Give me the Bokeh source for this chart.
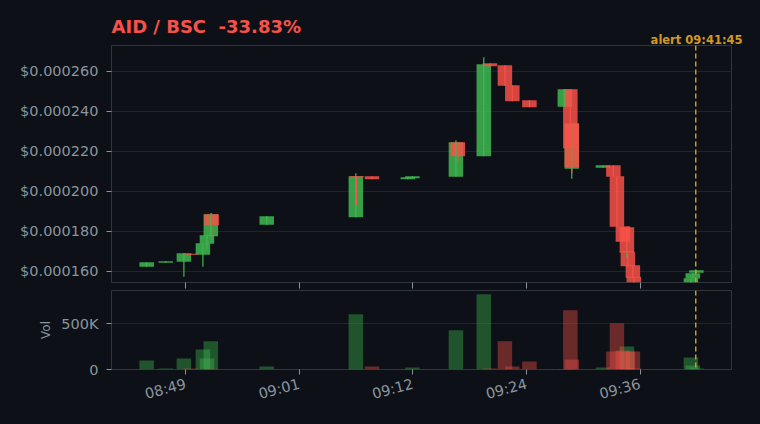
from bokeh.plotting import figure
from bokeh.models import (Range1d, FixedTicker, PrintfTickFormatter, Span, Title,
                          ColumnDataSource)
from bokeh.layouts import column
from bokeh.embed import file_html
from bokeh.resources import INLINE

# ---------------- data ----------------
times = ["08:44:58", "08:46:56", "08:48:49", "08:49:32", "08:50:47", "08:51:12",
         "08:51:36", "08:51:41", "08:57:23", "09:06:36", "09:06:41", "09:08:16",
         "09:11:59", "09:12:27", "09:16:57", "09:17:09", "09:19:50", "09:20:28",
         "09:22:01", "09:22:47", "09:24:33", "09:28:13", "09:28:47", "09:28:56",
         "09:28:56", "09:32:09", "09:33:14", "09:33:36", "09:34:13", "09:34:38",
         "09:34:38", "09:34:44", "09:35:15", "09:35:21", "09:41:15", "09:41:27",
         "09:41:49"]
opens = [0.0001622, 0.0001642, 0.0001647, 0.0001687, 0.0001682, 0.0001737,
         0.0001775, 0.0001885, 0.0001832, 0.0001870, 0.0002075, 0.0002075,
         0.0002060, 0.0002065, 0.0002072, 0.0002245, 0.0002175, 0.0002640,
         0.0002630, 0.0002530, 0.0002455, 0.0002422, 0.0002510, 0.0002112,
         0.0002338, 0.0002117, 0.0002130, 0.0002075, 0.0001825, 0.0001695,
         0.0001820, 0.0001695, 0.0001630, 0.0001572, 0.0001520, 0.0001564,
         0.0001592]
highs = [0.0001645, 0.0001650, 0.0001690, 0.0001687, 0.0001740, 0.0001780,
         0.0001890, 0.0001890, 0.0001875, 0.0002090, 0.0002075, 0.0002075,
         0.0002070, 0.0002075, 0.0002255, 0.0002245, 0.0002670, 0.0002640,
         0.0002630, 0.0002530, 0.0002455, 0.0002510, 0.0002510, 0.0002338,
         0.0002338, 0.0002130, 0.0002130, 0.0002075, 0.0001825, 0.0001700,
         0.0001820, 0.0001695, 0.0001630, 0.0001572, 0.0001565, 0.0001590,
         0.0001605]
lows = [0.0001622, 0.0001642, 0.0001572, 0.0001682, 0.0001622, 0.0001708,
        0.0001775, 0.0001756, 0.0001832, 0.0001870, 0.0001930, 0.0002060,
        0.0002060, 0.0002065, 0.0002072, 0.0002145, 0.0002175, 0.0002625,
        0.0002527, 0.0002450, 0.0002420, 0.0002422, 0.0002215, 0.0002062,
        0.0002089, 0.0002117, 0.0002072, 0.0001822, 0.0001747, 0.0001668,
        0.0001692, 0.0001625, 0.0001567, 0.0001535, 0.0001520, 0.0001564,
        0.0001592]
closes = [0.0001645, 0.0001650, 0.0001690, 0.0001682, 0.0001740, 0.0001780,
          0.0001885, 0.0001830, 0.0001875, 0.0002075, 0.0002070, 0.0002060,
          0.0002070, 0.0002075, 0.0002245, 0.0002175, 0.0002635, 0.0002625,
          0.0002527, 0.0002450, 0.0002420, 0.0002510, 0.0002215, 0.0002338,
          0.0002120, 0.0002130, 0.0002072, 0.0001822, 0.0001747, 0.0001700,
          0.0001692, 0.0001625, 0.0001567, 0.0001535, 0.0001565, 0.0001590,
          0.0001605]
volumes = [98000, 11000, 120000, 10000, 219000, 120000, 307000, 8000, 33000,
           602000, 6000, 33000, 4000, 22000, 427000, 4000, 821000, 10000,
           307000, 33000, 88000, 5000, 646000, 5000, 110000, 22000, 197000,
           504000, 208000, 252000, 10000, 197000, 197000, 10000, 131000, 44000,
           10000]

tick_times = ["08:49:00", "09:00:45", "09:12:30", "09:24:15", "09:36:00"]
tick_labels = ["08:49", "09:01", "09:12", "09:24", "09:36"]
price_ticks = [0.00016, 0.00018, 0.00020, 0.00022, 0.00024, 0.00026]
vol_ticks = [0, 500000]
vol_tick_labels = ["0", "500K"]
alert_time = "09:41:45"
title_text = "AID / BSC\u00a0 -33.83%"
alert_text = "alert 09:41:45"
vol_axis_label = "Vol"

# ---------------- style ----------------
BG = "#0d1117"
GRID = "#1f242c"
FRAME = "#30363d"
TXT = "#8b949e"
GREEN = "#3fb950"
RED = "#f85149"
GOLD = "#d29922"
FONT = "DejaVu Sans"
CANDLE_W = 1.5  # minutes


def to_min(s):
    h, m, sec = (int(v) for v in s.split(":"))
    return h * 60 + m + sec / 60.0


xs = [to_min(t) for t in times]
up = [c >= o for o, c in zip(opens, closes)]


def subset(flag):
    idx = [i for i in range(len(xs)) if up[i] == flag]
    return ColumnDataSource(dict(
        x=[xs[i] for i in idx],
        top=[max(opens[i], closes[i]) for i in idx],
        bottom=[min(opens[i], closes[i]) for i in idx],
        high=[highs[i] for i in idx],
        low=[lows[i] for i in idx],
        vol=[volumes[i] for i in idx],
    ))


src_up = subset(True)
src_dn = subset(False)

tick_vals = [to_min(t) for t in tick_times]
alert_x = to_min(alert_time)

x_range = Range1d(521.33, 585.45)
y_lo, y_hi = 0.00015435, 0.00027285

# ---------------- price figure ----------------
p1 = figure(width=744, height=282, x_range=x_range, y_range=Range1d(y_lo, y_hi),
            output_backend="svg", toolbar_location=None,
            min_border_left=103, min_border_right=21, min_border_top=37,
            min_border_bottom=8,
            background_fill_color=BG, border_fill_color=BG,
            outline_line_color=FRAME, outline_line_width=1)
p1.title.text = title_text
p1.title.text_font = FONT
p1.title.text_font_size = "18px"
p1.title.text_font_style = "bold"
p1.title.text_color = RED
p1.title.align = "left"
p1.title.standoff = -9

alert_title = Title(text=alert_text, align="right", offset=-11, standoff=-3,
                    text_font=FONT, text_font_size="11.5px",
                    text_font_style="bold", text_color=GOLD)
p1.add_layout(alert_title, "above")

p1.xgrid.visible = False
p1.ygrid.grid_line_color = GRID
p1.ygrid.ticker = FixedTicker(ticks=price_ticks)

p1.xaxis.ticker = FixedTicker(ticks=tick_vals)
p1.xaxis.major_label_text_font_size = "0px"
p1.xaxis.major_label_text_color = None
p1.xaxis.major_label_text_alpha = 0
p1.xaxis.major_label_standoff = 0
p1.xaxis.axis_line_color = None
p1.xaxis.major_tick_line_color = TXT
p1.xaxis.major_tick_out = 6
p1.xaxis.major_tick_in = 0
p1.xaxis.minor_tick_line_color = None

p1.yaxis.ticker = FixedTicker(ticks=price_ticks)
p1.yaxis.formatter = PrintfTickFormatter(format="$%.6f")
p1.yaxis.major_label_text_font = FONT
p1.yaxis.major_label_text_font_size = "14.5px"
p1.yaxis.major_label_text_color = TXT
p1.yaxis.major_label_standoff = 8
p1.yaxis.axis_line_color = None
p1.yaxis.major_tick_line_color = TXT
p1.yaxis.major_tick_out = 5
p1.yaxis.major_tick_in = 0
p1.yaxis.minor_tick_line_color = None

p1.vbar(x="x", top="top", bottom="bottom", width=CANDLE_W, source=src_up,
        fill_color=GREEN, fill_alpha=0.85, line_color=None)
p1.vbar(x="x", top="top", bottom="bottom", width=CANDLE_W, source=src_dn,
        fill_color=RED, fill_alpha=0.85, line_color=None)
p1.segment(x0="x", y0="low", x1="x", y1="high", source=src_up,
           line_color=GREEN, line_width=1.2)
p1.segment(x0="x", y0="low", x1="x", y1="high", source=src_dn,
           line_color=RED, line_width=1.2)

p1.add_layout(Span(location=alert_x, dimension="height", line_color=GOLD,
                   line_dash="5 3", line_width=1.5))

# ---------------- volume figure ----------------
p2 = figure(width=744, height=124, x_range=x_range, y_range=Range1d(0, 862000),
            output_backend="svg", toolbar_location=None,
            min_border_left=103, min_border_right=21, min_border_top=0,
            min_border_bottom=45,
            background_fill_color=BG, border_fill_color=BG,
            outline_line_color=FRAME, outline_line_width=1)
p2.xgrid.visible = False
p2.ygrid.grid_line_color = GRID
p2.ygrid.ticker = FixedTicker(ticks=vol_ticks)

p2.xaxis.ticker = FixedTicker(ticks=tick_vals)
p2.xaxis.major_label_overrides = {v: l for v, l in zip(tick_vals, tick_labels)}
p2.xaxis.major_label_orientation = 0.26
p2.xaxis.major_label_text_font = FONT
p2.xaxis.major_label_text_font_size = "14.5px"
p2.xaxis.major_label_text_color = TXT
p2.xaxis.major_label_standoff = 9
p2.xaxis.axis_line_color = None
p2.xaxis.major_tick_line_color = TXT
p2.xaxis.major_tick_out = 5
p2.xaxis.major_tick_in = 0
p2.xaxis.minor_tick_line_color = None

p2.yaxis.ticker = FixedTicker(ticks=vol_ticks)
p2.yaxis.major_label_overrides = {v: l for v, l in zip(vol_ticks, vol_tick_labels)}
p2.yaxis.major_label_text_font = FONT
p2.yaxis.major_label_text_font_size = "14.5px"
p2.yaxis.major_label_text_color = TXT
p2.yaxis.major_label_standoff = 8
p2.yaxis.axis_line_color = None
p2.yaxis.major_tick_line_color = TXT
p2.yaxis.major_tick_out = 5
p2.yaxis.major_tick_in = 0
p2.yaxis.minor_tick_line_color = None
p2.yaxis.axis_label = vol_axis_label
p2.yaxis.axis_label_text_font = FONT
p2.yaxis.axis_label_text_font_size = "12px"
p2.yaxis.axis_label_text_font_style = "normal"
p2.yaxis.axis_label_text_color = TXT
p2.yaxis.axis_label_standoff = 5

p2.vbar(x="x", top="vol", bottom=0, width=CANDLE_W, source=src_up,
        fill_color=GREEN, fill_alpha=0.4, line_color=None)
p2.vbar(x="x", top="vol", bottom=0, width=CANDLE_W, source=src_dn,
        fill_color=RED, fill_alpha=0.4, line_color=None)
p2.add_layout(Span(location=alert_x, dimension="height", line_color=GOLD,
                   line_dash="5 3", line_width=1.5))

layout = column(p1, p2, spacing=0)
html = file_html(layout, INLINE)
html = html.replace(
    "</head>",
    "<style>html{background:%s !important;} body{background:%s !important;"
    "margin:8px !important; height:auto !important;}</style></head>" % (BG, BG), 1)
open("out.html", "w").write(html)
